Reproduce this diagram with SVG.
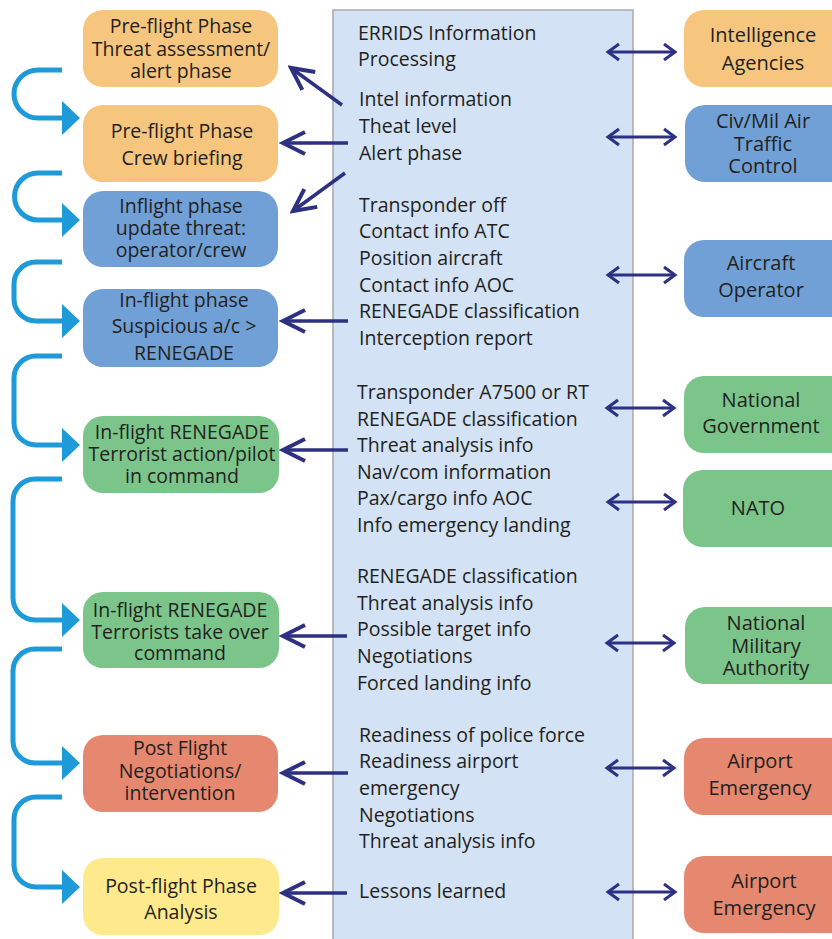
<svg xmlns="http://www.w3.org/2000/svg" width="832" height="939" viewBox="0 0 832 939">
<style>
text{font-family:"Open Sans","Noto Sans",sans-serif;fill:#231f20;}
.c{font-size:19.5px;}
.n{font-size:19.5px;text-anchor:middle;}
.r{font-size:20px;text-anchor:middle;}
.or{fill:#f6c67f;}
.bl{fill:#70a0d5;}
.gr{fill:#7bc58b;}
.rd{fill:#e6876f;}
.ye{fill:#fee98c;}
.flow{fill:none;stroke:#1d9ad7;stroke-width:5;marker-end:url(#blueHead);}
.info{fill:none;stroke:#2e3081;stroke-width:3.5;marker-end:url(#chevBig);}
.dbl{fill:none;stroke:#2e3081;stroke-width:2.8;marker-start:url(#chevSmall);marker-end:url(#chevSmall);}
</style>
<defs>
<marker id="blueHead" viewBox="0 0 18 34" refX="4" refY="17" markerWidth="18" markerHeight="34" markerUnits="userSpaceOnUse" orient="auto">
<path d="M0,0 L18,17 L0,34 Z" fill="#1d9ad7"/>
</marker>
<marker id="chevBig" viewBox="-28 -15 32 30" refX="0" refY="0" markerWidth="32" markerHeight="30" markerUnits="userSpaceOnUse" orient="auto">
<polyline points="-22,-11 0,0 -22,11" fill="none" stroke="#2e3081" stroke-width="4"/>
</marker>
<marker id="chevSmall" viewBox="-16 -11 20 22" refX="0" refY="0" markerWidth="20" markerHeight="22" markerUnits="userSpaceOnUse" orient="auto-start-reverse">
<polyline points="-11,-8 0,0 -11,8" fill="none" stroke="#2e3081" stroke-width="3"/>
</marker>
</defs>

<g id="center">
<rect x="333" y="10" width="300" height="940" fill="#d3e2f4" stroke="#a9a9a9" stroke-width="1.5"/>
<text class="c" x="358" y="40">ERRIDS Information</text>
<text class="c" x="358" y="66">Processing</text>
<text class="c" x="359" y="106">Intel information</text>
<text class="c" x="359" y="133">Theat level</text>
<text class="c" x="359" y="160">Alert phase</text>
<text class="c" x="359" y="212">Transponder off</text>
<text class="c" x="359" y="238">Contact info ATC</text>
<text class="c" x="359" y="265">Position aircraft</text>
<text class="c" x="359" y="292">Contact info AOC</text>
<text class="c" x="359" y="318">RENEGADE classification</text>
<text class="c" x="359" y="345">Interception report</text>
<text class="c" x="357" y="399">Transponder A7500 or RT</text>
<text class="c" x="357" y="426">RENEGADE classification</text>
<text class="c" x="357" y="452">Threat analysis info</text>
<text class="c" x="357" y="479">Nav/com information</text>
<text class="c" x="357" y="505">Pax/cargo info AOC</text>
<text class="c" x="357" y="532">Info emergency landing</text>
<text class="c" x="357" y="583">RENEGADE classification</text>
<text class="c" x="357" y="610">Threat analysis info</text>
<text class="c" x="357" y="636">Possible target info</text>
<text class="c" x="357" y="663">Negotiations</text>
<text class="c" x="357" y="690">Forced landing info</text>
<text class="c" x="359" y="742">Readiness of police force</text>
<text class="c" x="359" y="768">Readiness airport</text>
<text class="c" x="359" y="795">emergency</text>
<text class="c" x="359" y="822">Negotiations</text>
<text class="c" x="359" y="848">Threat analysis info</text>
<text class="c" x="359" y="898">Lessons learned</text>
</g>

<g id="phase1">
<rect class="or" x="83" y="10" width="195" height="77" rx="20"/>
<text class="n" x="181" y="33">Pre-flight Phase</text>
<text class="n" x="181" y="56">Threat assessment/</text>
<text class="n" x="181" y="78">alert phase</text>
</g>
<g id="phase2">
<rect class="or" x="83" y="105" width="195" height="77" rx="20"/>
<text class="n" x="182" y="138">Pre-flight Phase</text>
<text class="n" x="182" y="165">Crew briefing</text>
</g>
<g id="phase3">
<rect class="bl" x="83" y="191" width="195" height="76" rx="20"/>
<text class="n" x="181" y="213">Inflight phase</text>
<text class="n" x="181" y="235">update threat:</text>
<text class="n" x="181" y="257">operator/crew</text>
</g>
<g id="phase4">
<rect class="bl" x="83" y="289" width="195" height="78" rx="20"/>
<text class="n" x="184" y="307">In-flight phase</text>
<text class="n" x="184" y="333">Suspicious a/c &gt;</text>
<text class="n" x="184" y="360">RENEGADE</text>
</g>
<g id="phase5">
<rect class="gr" x="83" y="416" width="196" height="77" rx="20"/>
<text class="n" x="182" y="439">In-flight RENEGADE</text>
<text class="n" x="182" y="461">Terrorist action/pilot</text>
<text class="n" x="182" y="483">in command</text>
</g>
<g id="phase6">
<rect class="gr" x="83" y="592" width="196" height="76" rx="20"/>
<text class="n" x="180" y="617">In-flight RENEGADE</text>
<text class="n" x="180" y="639">Terrorists take over</text>
<text class="n" x="180" y="660">command</text>
</g>
<g id="phase7">
<rect class="rd" x="83" y="735" width="195" height="77" rx="20"/>
<text class="n" x="180" y="755">Post Flight</text>
<text class="n" x="180" y="778">Negotiations/</text>
<text class="n" x="180" y="800">intervention</text>
</g>
<g id="phase8">
<rect class="ye" x="83" y="858" width="196" height="77" rx="20"/>
<text class="n" x="181" y="893">Post-flight Phase</text>
<text class="n" x="181" y="919">Analysis</text>
</g>

<g id="intelligence">
<rect class="or" x="684" y="10" width="170" height="77" rx="20"/>
<text class="r" x="763" y="42">Intelligence</text>
<text class="r" x="763" y="70">Agencies</text>
</g>
<g id="atc">
<rect class="bl" x="685" y="105" width="170" height="77" rx="20"/>
<text class="r" x="763" y="128">Civ/Mil Air</text>
<text class="r" x="763" y="151">Traffic</text>
<text class="r" x="763" y="173">Control</text>
</g>
<g id="operator">
<rect class="bl" x="684" y="240" width="170" height="77" rx="20"/>
<text class="r" x="761" y="270">Aircraft</text>
<text class="r" x="761" y="297">Operator</text>
</g>
<g id="government">
<rect class="gr" x="684" y="376" width="170" height="77" rx="20"/>
<text class="r" x="761" y="407">National</text>
<text class="r" x="761" y="433">Government</text>
</g>
<g id="nato">
<rect class="gr" x="683" y="470" width="170" height="77" rx="20"/>
<text class="r" x="758" y="515">NATO</text>
</g>
<g id="military">
<rect class="gr" x="685" y="607" width="170" height="77" rx="20"/>
<text class="r" x="766" y="630">National</text>
<text class="r" x="766" y="653">Military</text>
<text class="r" x="766" y="675">Authority</text>
</g>
<g id="airport1">
<rect class="rd" x="684" y="738" width="170" height="77" rx="20"/>
<text class="r" x="760" y="768">Airport</text>
<text class="r" x="760" y="795">Emergency</text>
</g>
<g id="airport2">
<rect class="rd" x="684" y="856" width="170" height="77" rx="20"/>
<text class="r" x="764" y="888">Airport</text>
<text class="r" x="764" y="915">Emergency</text>
</g>

<g id="connectors">
<path class="flow" d="M62,70 H38 A24,24 0 0 0 38,118 H66"/>
<path class="flow" d="M62,173 H38 A23.5,23.5 0 0 0 38,220 H66"/>
<path class="flow" d="M62,262 H36 A22,22 0 0 0 14,284 V299 A22,22 0 0 0 36,321 H66"/>
<path class="flow" d="M62,356 H36 A22,22 0 0 0 14,378 V423 A22,22 0 0 0 36,445 H66"/>
<path class="flow" d="M62,479 H35 A22,22 0 0 0 13,501 V598 A22,22 0 0 0 35,620 H66"/>
<path class="flow" d="M62,649 H35 A22,22 0 0 0 13,671 V741 A22,22 0 0 0 35,763 H66"/>
<path class="flow" d="M62,797 H36 A22,22 0 0 0 14,819 V865 A22,22 0 0 0 36,887 H66"/>

<path class="info" d="M342,105 L291,68"/>
<path class="info" d="M348,143 H283"/>
<path class="info" d="M345,173 L293,211"/>
<path class="info" d="M348,321 H283"/>
<path class="info" d="M348,450 H283"/>
<path class="info" d="M347,636 H283"/>
<path class="info" d="M348,773 H283"/>
<path class="info" d="M347,893 H283"/>

<path class="dbl" d="M608,52 H675"/>
<path class="dbl" d="M608,137 H675"/>
<path class="dbl" d="M608,275 H675"/>
<path class="dbl" d="M607,408 H674"/>
<path class="dbl" d="M608,502 H675"/>
<path class="dbl" d="M607,643 H674"/>
<path class="dbl" d="M607,768 H674"/>
<path class="dbl" d="M608,892 H675"/>
</g>
</svg>
